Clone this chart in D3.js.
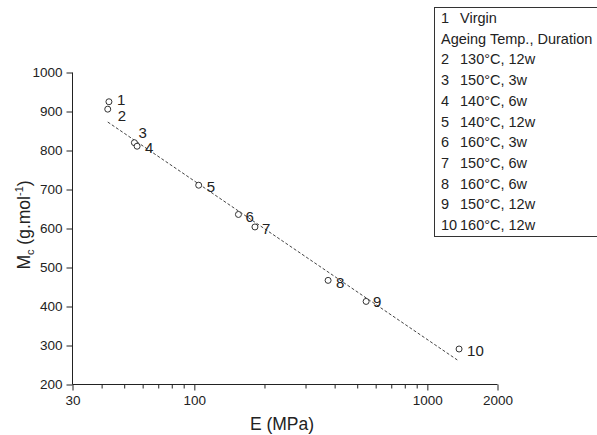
<!DOCTYPE html>
<html>
<head>
<meta charset="utf-8">
<script src="https://cdn.jsdelivr.net/npm/d3@7"></script>
<style>
html,body{margin:0;padding:0;background:#fff;}
svg{display:block;font-family:"Liberation Sans",Arial,sans-serif;}
</style>
</head>
<body>
<svg id="chart" width="597" height="435"></svg>
<script>
// ---- data ----
const pointIds = ["1","2","3","4","5","6","7","8","9","10"];
const modulusE = [43.0, 42.5, 55.3, 56.8, 104.4, 154.6, 182, 375, 546, 1368];
const mcValues = [925, 906, 820, 811, 711, 636, 604, 467, 413, 291];
const fitE = [42.5, 1344];
const fitMc = [873, 263];
const xMajorTicks = [30, 100, 1000, 2000];
const xMinorTicks = [40, 50, 60, 70, 80, 90, 200, 300, 400, 500, 600, 700, 800, 900];
const yTicks = [200, 300, 400, 500, 600, 700, 800, 900, 1000];
const legendNums = ["1", "", "2", "3", "4", "5", "6", "7", "8", "9", "10"];
const legendTexts = ["Virgin", "Ageing Temp., Duration", "130°C, 12w", "150°C, 3w", "140°C, 6w",
  "140°C, 12w", "160°C, 3w", "150°C, 6w", "160°C, 6w", "150°C, 12w", "160°C, 12w"];
// label offsets (styling)
const labelDx = [8, 10, 4, 8, 8, 7, 7, 8, 7, 8];
const labelDy = [-2, 6, -10, 1, 1.5, 2, 1.5, 2, 0, 1];

const ink = "#222";
const svg = d3.select("#chart");
const x = d3.scaleLog().domain([30, 2000]).range([72.5, 497.5]);
const y = d3.scaleLinear().domain([200, 1000]).range([384.5, 72.5]);

// axes
const gx = svg.append("g").attr("transform", "translate(0,384.5)")
  .call(d3.axisBottom(x).tickValues(xMajorTicks).tickFormat(d3.format("d")).tickSize(6).tickPadding(5));
const gxm = svg.append("g").attr("transform", "translate(0,384.5)")
  .call(d3.axisBottom(x).tickValues(xMinorTicks).tickFormat("").tickSize(4));
gxm.select(".domain").remove();
const gy = svg.append("g").attr("transform", "translate(72.5,0)")
  .call(d3.axisLeft(y).tickValues(yTicks).tickFormat(d3.format("d")).tickSize(6).tickPadding(4));
[gx, gxm, gy].forEach(g => {
  g.selectAll("path,line").attr("stroke", ink).attr("stroke-width", 1);
  g.selectAll("text").attr("fill", ink).attr("font-size", 13.5)
    .attr("font-family", "'Liberation Sans',Arial,sans-serif");
});
gx.select(".domain").attr("d", `M${x(30)},0V0H${x(2000)}V0`);
gy.select(".domain").attr("d", `M0,${y(200)}H0V${y(1000)}H0`);

// axis titles
svg.append("text").attr("x", 282).attr("y", 430).attr("text-anchor", "middle")
  .attr("font-size", 17.5).attr("fill", ink).text("E (MPa)");
const yl = svg.append("text").attr("transform", "translate(30,225) rotate(-90)")
  .attr("text-anchor", "middle").attr("font-size", 17.5).attr("fill", ink);
yl.append("tspan").text("M");
yl.append("tspan").attr("font-size", 11).attr("dy", 4).text("c");
yl.append("tspan").attr("dy", -4).text(" (g.mol");
yl.append("tspan").attr("font-size", 11).attr("dy", -7).text("-1");
yl.append("tspan").attr("dy", 7).text(")");

// fit line
const fitData = fitE.map((e, i) => [e, fitMc[i]]);
svg.append("path").datum(fitData)
  .attr("d", d3.line().x(d => x(d[0])).y(d => y(d[1])))
  .attr("fill", "none").attr("stroke", "#444").attr("stroke-width", 1)
  .attr("stroke-dasharray", "3,2");

// points
const pts = pointIds.map((id, i) => ({id, e: modulusE[i], m: mcValues[i], dx: labelDx[i], dy: labelDy[i]}));
svg.append("g").selectAll("circle").data(pts).join("circle")
  .attr("cx", d => x(d.e)).attr("cy", d => y(d.m)).attr("r", 3)
  .attr("fill", "#fff").attr("stroke", "#333").attr("stroke-width", 1);
svg.append("g").selectAll("text").data(pts).join("text")
  .attr("x", d => x(d.e) + d.dx).attr("y", d => y(d.m) + d.dy)
  .attr("dominant-baseline", "central")
  .attr("font-size", 15).attr("fill", ink).text(d => d.id);

// legend
svg.append("rect").attr("x", 434.5).attr("y", 7.5).attr("width", 200).attr("height", 229)
  .attr("fill", "#fff").attr("stroke", "#333").attr("stroke-width", 1);
const lg = svg.append("g");
legendTexts.forEach((t, i) => {
  const yy = 23 + i * 20.7;
  if (legendNums[i] === "") {
    lg.append("text").attr("x", 441).attr("y", yy).attr("font-size", 14.5).attr("fill", ink).text(t);
  } else {
    lg.append("text").attr("x", 441).attr("y", yy).attr("font-size", 14.5).attr("fill", ink).text(legendNums[i]);
    lg.append("text").attr("x", 460).attr("y", yy)
      .attr("font-size", 14.5).attr("fill", ink).text(t);
  }
});
</script>
</body>
</html>
